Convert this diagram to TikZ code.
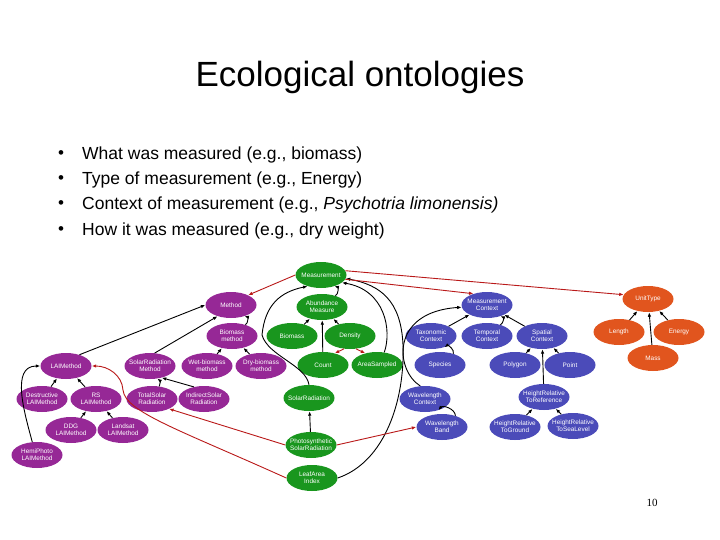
\documentclass[tikz,border=0pt]{standalone}
\usepackage{fontspec}
\setmainfont{Liberation Sans}
\newfontfamily\pagefont{Liberation Serif}
\usetikzlibrary{shapes.geometric,arrows.meta}
\definecolor{msrgreen}{RGB}{25,150,30}
\definecolor{mthpurple}{RGB}{150,40,150}
\definecolor{ctxblue}{RGB}{75,75,185}
\definecolor{untorange}{RGB}{225,85,30}
\definecolor{relred}{RGB}{185,25,25}

\begin{document}
\begin{tikzpicture}[x=1pt, y=-1pt, every node/.style={inner sep=0pt},
    term/.style={ellipse, minimum width=51pt, minimum height=26pt, inner xsep=-3.5pt, inner ysep=-1.5pt, text=white, align=center, font=\fontsize{6.4}{7.4}\selectfont},
    msr/.style={term, fill=msrgreen},
    mth/.style={term, fill=mthpurple},
    ctx/.style={term, fill=ctxblue},
    unt/.style={term, fill=untorange},
    isa/.style={-{Latex[length=4.5pt,width=3.5pt]}, line width=0.9pt},
    rel/.style={isa, color=relred},
    bul/.style={anchor=west, font=\fontsize{17.5}{21}\selectfont}]
\useasboundingbox (0,0) rectangle (720,540);

% title and bullets
\node[font=\fontsize{35}{40}\selectfont] (title) at (360,77) {Ecological ontologies};
\foreach \y/\n in {155/1,180/2,205/3,231/4}
    \node[font=\fontsize{17}{18}\selectfont] (dot\n) at (61,\y) {\textbullet};
\node[bul] (what) at (82,155) {What was measured (e.g., biomass)};
\node[bul] (type) at (82,180) {Type of measurement (e.g., Energy)};
\node[bul] (ctxt) at (82,205) {Context of measurement (e.g., \textit{Psychotria limonensis)}};
\node[bul] (how) at (82,231) {How it was measured (e.g., dry weight)};
\node[font=\pagefont\fontsize{11}{12}\selectfont] (page) at (652,503) {10};

% measurement (green)
\node[msr] (meas) at (321,275) {Measurement};
\node[msr] (abund) at (322,307) {Abundance\\Measure};
\node[msr] (bmass) at (292,336) {Biomass};
\node[msr] (dens) at (350,336) {Density};
\node[msr] (count) at (323,365) {Count};
\node[msr] (area) at (377,365) {AreaSampled};
\node[msr] (solar) at (309,398) {SolarRadiation};
\node[msr] (psr) at (311,445) {Photosynthetic\\SolarRadiation};
\node[msr] (leaf) at (312,478) {LeafArea\\Index};

% method (purple)
\node[mth] (method) at (231,305) {Method};
\node[mth] (bmeth) at (232,336) {Biomass\\method};
\node[mth] (wet) at (207,366) {Wet-biomass\\method};
\node[mth] (dry) at (261,366) {Dry-biomass\\method};
\node[mth] (srm) at (150,366) {SolarRadiation\\Method};
\node[mth] (laim) at (66,366) {LAIMethod};
\node[mth] (destr) at (42,399) {Destructive\\LAIMethod};
\node[mth] (rs) at (96,399) {RS\\LAIMethod};
\node[mth] (tsr) at (152,399) {TotalSolar\\Radiation};
\node[mth] (isr) at (204,399) {IndirectSolar\\Radiation};
\node[mth] (ddg) at (71,430) {DDG\\LAIMethod};
\node[mth] (lsat) at (123,430) {Landsat\\LAIMethod};
\node[mth] (hemi) at (37,455) {HemiPhoto\\LAIMethod};

% context (blue)
\node[ctx] (mc) at (487,305) {Measurement\\Context};
\node[ctx] (tax) at (431,336) {Taxonomic\\Context};
\node[ctx] (temp) at (487,336) {Temporal\\Context};
\node[ctx] (spat) at (542,336) {Spatial\\Context};
\node[ctx] (spec) at (440,365) {Species};
\node[ctx] (poly) at (515,365) {Polygon};
\node[ctx] (point) at (570,365) {Point};
\node[ctx] (wlc) at (425,399) {Wavelength\\Context};
\node[ctx] (hrref) at (544,397) {HeightRelative\\ToReference};
\node[ctx] (wlb) at (442,427) {Wavelength\\Band};
\node[ctx] (hrgr) at (515,427) {HeightRelative\\ToGround};
\node[ctx] (hrsl) at (573,426) {HeightRelative\\ToSeaLevel};

% unit type (orange)
\node[unt] (unit) at (648,299) {UnitType};
\node[unt] (len) at (619,332) {Length};
\node[unt] (energy) at (679,332) {Energy};
\node[unt] (mass) at (653,358) {Mass};

% is-a links
\draw[isa] (abund.40) to[bend right=70] (meas.-40);
\draw[isa] (bmass) -- (abund);
\draw[isa] (dens) -- (abund);
\draw[isa] (count) -- (abund);
\draw[isa] (area.60) .. controls (392,330) and (385,290) .. (meas.-20);
\draw[isa] (leaf.east) .. controls (385,462) and (405,400) .. (403,345) .. controls (401,300) and (380,285) .. (meas.-8);
\draw[isa] (solar.north) .. controls (306,365) and (268,356) .. (262,335) .. controls (265,305) and (280,292) .. (meas.-140);
\draw[isa] (psr) -- (solar);

\draw[isa] (bmeth.40) to[bend right=70] (method.-40);
\draw[isa] (wet) -- (bmeth);
\draw[isa] (dry) -- (bmeth);
\draw[isa] (laim.40) -- (method.west);
\draw[isa] (srm.70) -- (method.220);
\draw[isa] (tsr.60) to[bend right=40] (srm.-60);
\draw[isa] (isr.130) -- (srm.-45);
\draw[isa] (destr) -- (laim);
\draw[isa] (rs) -- (laim);
\draw[isa] (ddg) -- (rs);
\draw[isa] (lsat) -- (rs);
\draw[isa] (hemi.110) to[out=105,in=180] (laim.west);

\draw[isa] (tax) -- (mc);
\draw[isa] (temp.40) to[bend right=70] (mc.-40);
\draw[isa] (spat) -- (mc);
\draw[isa] (spec.40) to[bend right=70] (tax.-40);
\draw[isa] (poly) -- (spat);
\draw[isa] (point) -- (spat);
\draw[isa] (hrref) -- (spat);
\draw[isa] (hrgr) -- (hrref);
\draw[isa] (hrsl) -- (hrref);
\draw[isa] (wlb.40) to[bend right=70] (wlc.-40);
\draw[isa] (wlc.110) .. controls (395,370) and (390,312) .. (mc.185);

\draw[isa] (len) -- (unit);
\draw[isa] (energy) -- (unit);
\draw[isa] (mass) -- (unit);

% property links
\draw[rel] (dens.-115) -- (count.45);
\draw[rel] (dens.-65) -- (area.135);
\draw[rel] (meas.west) -- (method.30);
\draw[rel] (meas.-10) -- (mc.140);
\draw[rel] (meas.10) -- (unit.170);
\draw[rel] (psr.west) -- (tsr.-30);
\draw[rel] (psr.east) -- (wlb.west);
\draw[rel] (leaf.west) .. controls (180,430) and (125,412) .. (123,390) .. controls (122,375) and (108,366) .. (laim.east);
\end{tikzpicture}
\end{document}
